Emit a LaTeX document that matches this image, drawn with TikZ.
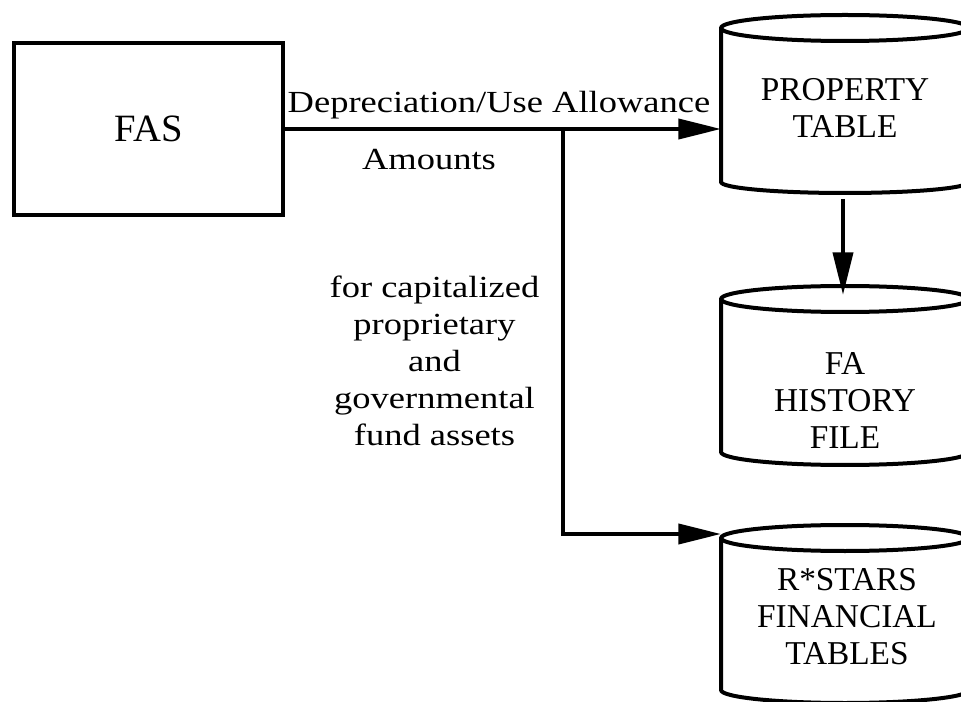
\documentclass[tikz,border=0pt]{standalone}
\usepackage{fontspec}
\setmainfont{Liberation Serif}
\newfontfamily\lblfont[FakeStretch=1.19]{Liberation Serif}
\usetikzlibrary{arrows.meta}

\tikzset{
  wire/.style={line width=3pt},
  flow/.style={wire, -{Triangle[length=32pt,width=15pt]}},
  db/.style={line width=3pt, line join=round},
  procbox/.style={draw, line width=3pt, minimum width=201.75pt, minimum height=129pt,
    inner sep=0pt, font=\fontsize{29}{32}\selectfont},
  dbtext/.style={align=center, inner sep=0pt, font=\fontsize{25}{27.75}\selectfont},
  flowtext/.style={align=center, inner sep=0pt, font=\lblfont\fontsize{23}{27.75}\selectfont},
}

\begin{document}
\begin{tikzpicture}[x=0.75pt, y=-0.75pt]
  \useasboundingbox (0,0) rectangle (961,702);
  \clip (0,0) rectangle (961,702);

  \node[procbox] (fas) at (148.5,129) {\raisebox{-3pt}{FAS}};

  \draw[db] (845,28) ellipse [x radius=124, y radius=13];
  \draw[db] (721,28) -- (721,182) arc [start angle=180, end angle=0, x radius=124, y radius=11] -- (969,28);
  \node[dbtext] (prop) at (845,108) {PROPERTY\\TABLE};

  \draw[db] (845,299) ellipse [x radius=124, y radius=13];
  \draw[db] (721,299) -- (721,452) arc [start angle=180, end angle=0, x radius=124, y radius=13] -- (969,299);
  \node[dbtext] (hist) at (845,400) {FA\\HISTORY\\FILE};

  \draw[db] (845,538) ellipse [x radius=124, y radius=13];
  \draw[db] (721,538) -- (721,690) arc [start angle=180, end angle=0, x radius=124, y radius=13] -- (969,538);
  \node[dbtext] (fin) at (847,617) {R*STARS\\FINANCIAL\\TABLES};

  \coordinate (prop-in) at (721,129);
  \coordinate (prop-out) at (843,199);
  \coordinate (hist-in) at (843,295);
  \coordinate (split) at (563,129);
  \coordinate (fin-in) at (721,534);

  \draw[flow] (fas.east) -- (prop-in);
  \draw[flow] (split) |- (fin-in);
  \draw[flow] (prop-out) -- (hist-in);

  \node[flowtext, anchor=base] (deprec) at (499,113) {Depreciation/Use Allowance};
  \node[flowtext, anchor=base] (amounts) at (429,170) {Amounts};
  \node[flowtext] (scope) at (434.5,361) {for capitalized\\proprietary\\and\\governmental\\fund assets};
\end{tikzpicture}
\end{document}
